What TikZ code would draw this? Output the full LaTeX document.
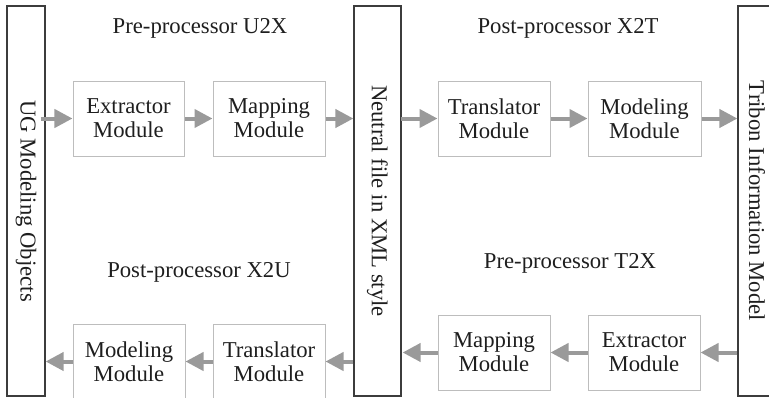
\documentclass[tikz,border=0pt]{standalone}
\usepackage{fontspec}
\setmainfont{Liberation Serif}
\usetikzlibrary{arrows.meta}
\definecolor{arrowgray}{HTML}{9A9A9A}
\definecolor{boxgray}{HTML}{BDBDBD}
\definecolor{darkline}{HTML}{3C3C3C}
\definecolor{txt}{HTML}{1E1E1E}
\newcommand{\diafont}{\rmfamily\fontsize{22.7bp}{24bp}\selectfont}
\tikzset{
  modbox/.style={draw=boxgray, line width=1bp, minimum width=111bp, minimum height=75bp,
    inner sep=0pt, align=center, font=\diafont, text=txt},
  tallbox/.style={draw=darkline, line width=1.2bp, minimum width=390bp, inner sep=0pt,
    rotate=-90, font=\diafont, text=txt},
  flow/.style={draw=arrowgray, line width=4bp, -{Triangle[length=18bp,width=18bp]}},
  caption/.style={anchor=base, font=\diafont, text=txt, inner sep=0pt},
}
\begin{document}
\begin{tikzpicture}[x=1bp,y=1bp]
\useasboundingbox (0,0) rectangle (769,397);
% tall boxes (rotated -90: local south = left edge, local north = right edge)
\node[tallbox, minimum height=38bp] (ug) at (26,196) {UG Modeling Objects};
\node[tallbox, minimum height=47bp] (neutral) at (377.5,196) {Neutral file in XML style};
\node[tallbox, minimum height=38bp] (tribon) at (757,196) {Tribon Information Model};
% top row
\node[modbox] (ext1) at (128.5,278.5) {Extractor\\Module};
\node[modbox, minimum width=112bp] (map1) at (269,278.5) {Mapping\\Module};
\node[modbox, minimum width=112bp] (tra1) at (494,278.5) {Translator\\Module};
\node[modbox, minimum width=113bp] (mod1) at (644.5,278.5) {Modeling\\Module};
% bottom row
\node[modbox, minimum width=112bp] (ext2) at (644,44.5) {Extractor\\Module};
\node[modbox, minimum width=112bp] (map2) at (494,44.5) {Mapping\\Module};
\node[modbox, minimum width=112bp] (tra2) at (269,35.5) {Translator\\Module};
\node[modbox, minimum width=112bp] (mod2) at (129,35.5) {Modeling\\Module};
% captions
\node[caption] (c1) at (200,364) {Pre-processor U2X};
\node[caption] (c2) at (568,364) {Post-processor X2T};
\node[caption] (c3) at (199,120) {Post-processor X2U};
\node[caption] (c4) at (570,129) {Pre-processor T2X};
% top arrows
\draw[flow] ([xshift=-5bp]ext1.west -| ug.north) -- (ext1.west);
\draw[flow] (ext1.east) -- (map1.west);
\draw[flow] (map1.east) -- (map1.east -| neutral.south);
\draw[flow] ([xshift=-1bp]tra1.west -| neutral.north) -- (tra1.west);
\draw[flow] (tra1.east) -- (mod1.west);
\draw[flow] (mod1.east) -- (mod1.east -| tribon.south);
% bottom arrows
\draw[flow] (ext2.east -| tribon.south) -- (ext2.east);
\draw[flow] (ext2.west) -- (map2.east);
\draw[flow] (map2.west) -- ([xshift=1bp]map2.west -| neutral.north);
\draw[flow] (tra2.east -| neutral.south) -- (tra2.east);
\draw[flow] (tra2.west) -- (mod2.east);
\draw[flow] (mod2.west) -- (mod2.west -| ug.north);
\end{tikzpicture}
\end{document}
